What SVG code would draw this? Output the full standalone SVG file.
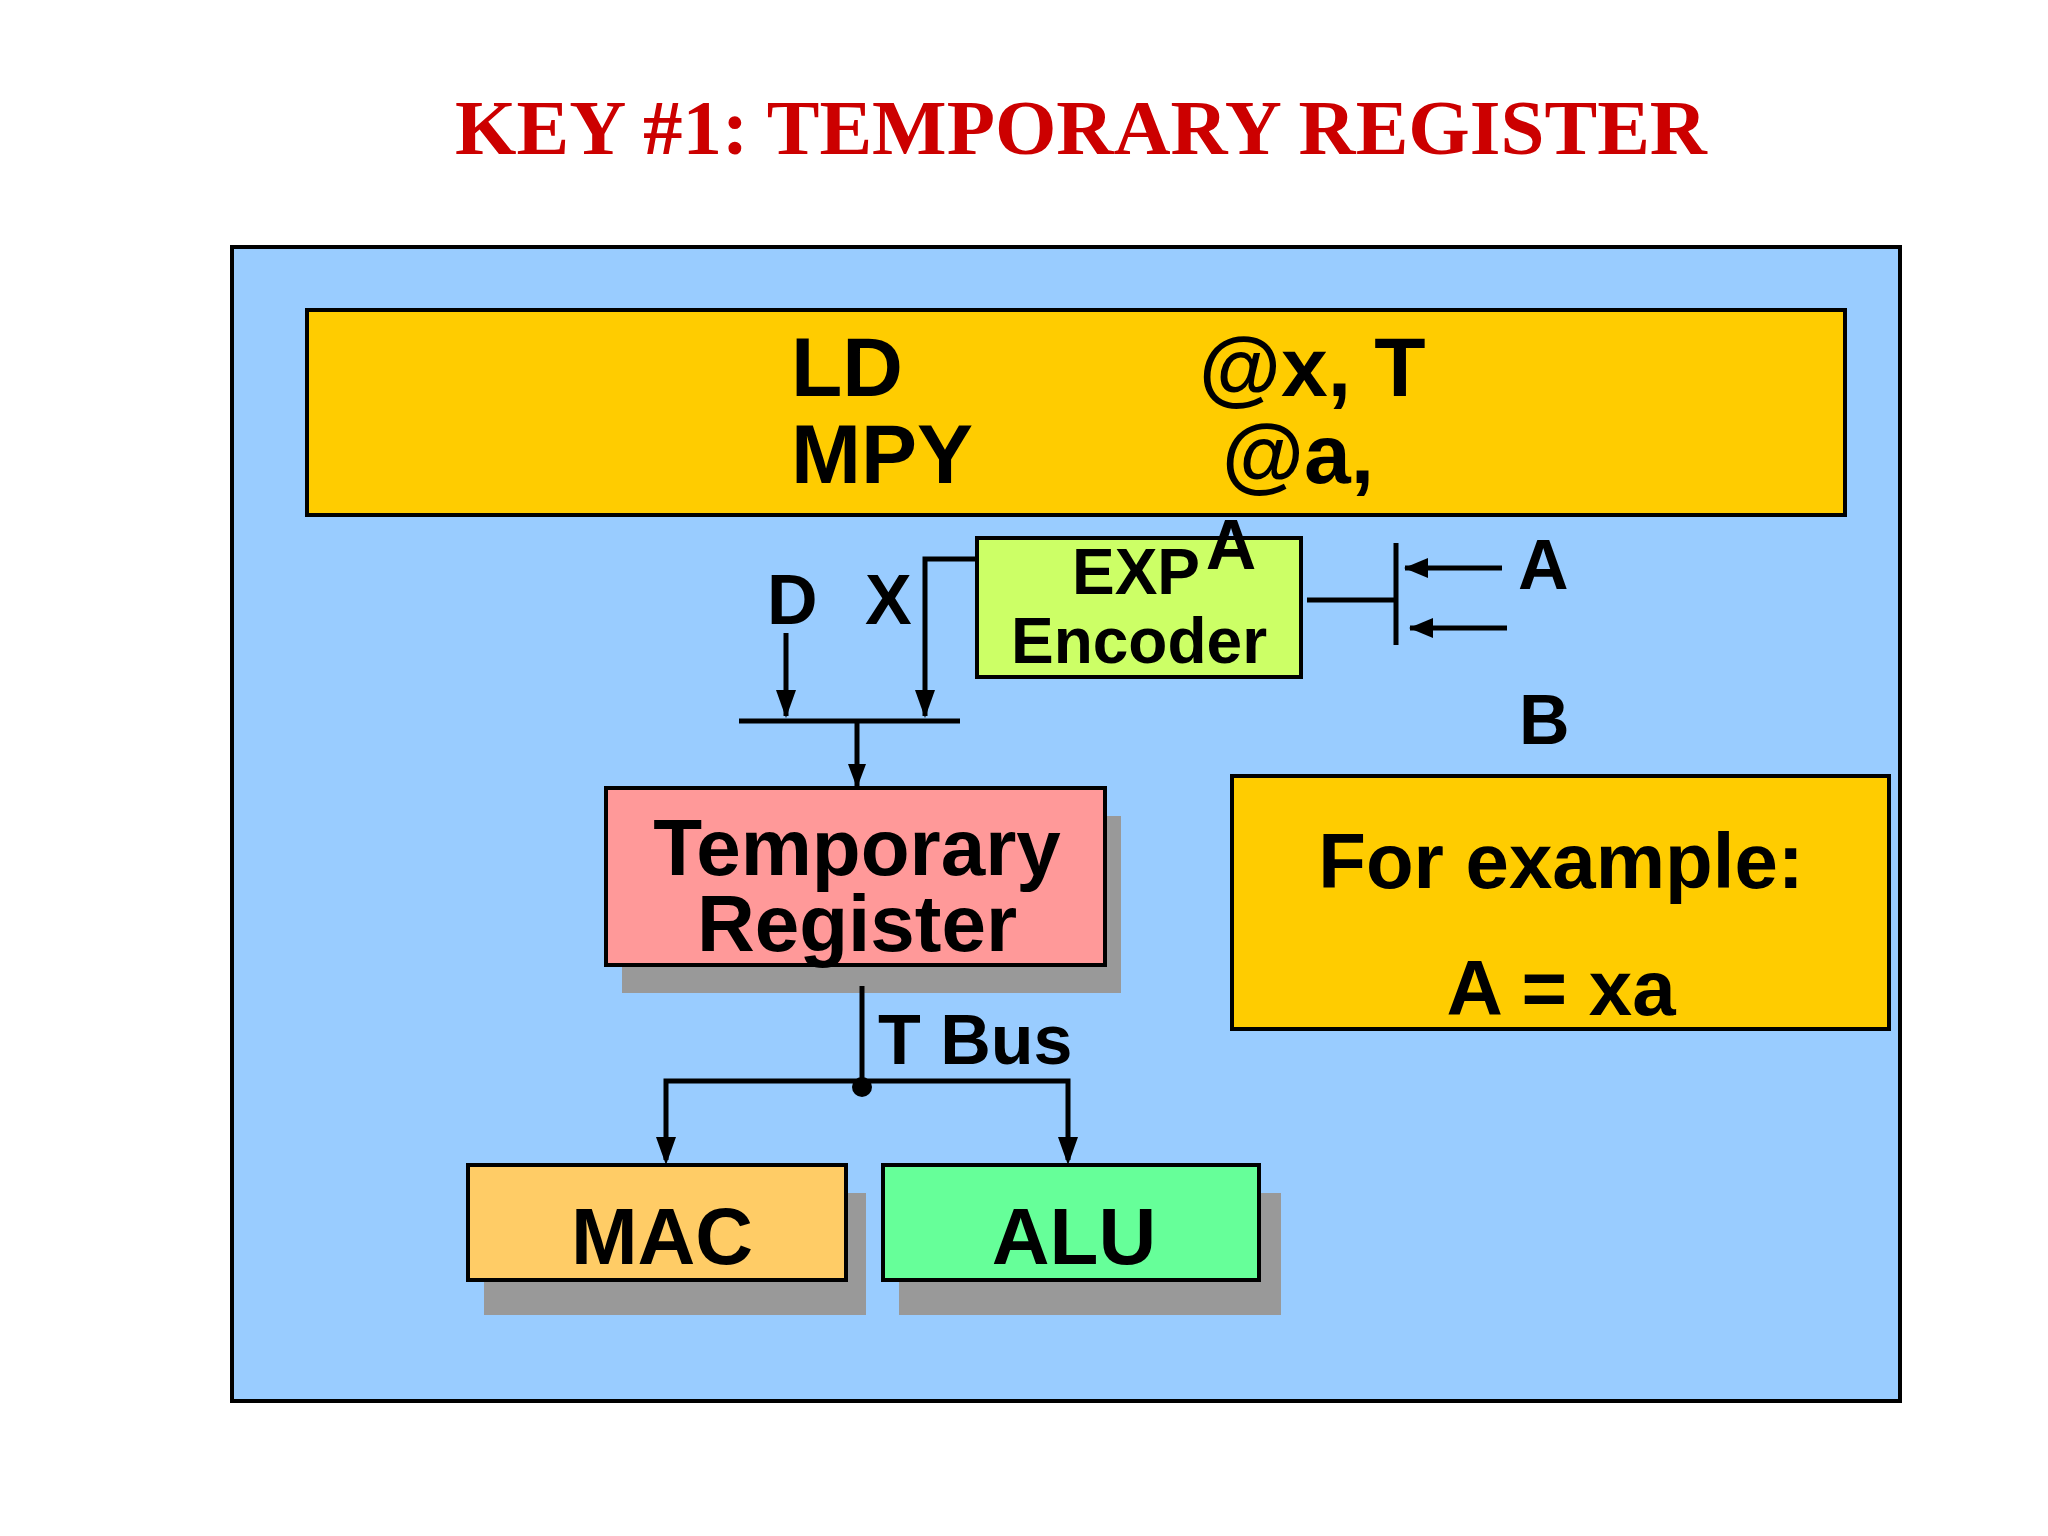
<svg xmlns="http://www.w3.org/2000/svg" width="2048" height="1536" viewBox="0 0 2048 1536">
<style>
.t{font-family:"Liberation Sans",Arial,sans-serif;font-weight:bold;fill:#000}
.b{stroke:#000;stroke-width:4}
.l{stroke:#000;stroke-width:5;fill:none}
.s{fill:#999}
</style>
<defs><marker id="ar" viewBox="0 0 16 24" refX="8" refY="23" markerWidth="16" markerHeight="24" orient="auto-start-reverse" markerUnits="userSpaceOnUse"><path d="M0,0L8,24L16,0z" transform="rotate(-90 8 12) translate(-4 4)"/></marker>
<marker id="ah" viewBox="0 0 24 20" refX="23" refY="10" markerWidth="24" markerHeight="20" orient="auto" markerUnits="userSpaceOnUse"><path d="M0,0L24,10L0,20z"/></marker></defs>
<rect width="2048" height="1536" fill="#fff"/>
<text x="1081" y="154" text-anchor="middle" font-family="Liberation Serif,serif" font-weight="bold" font-size="79" fill="#cc0000">KEY #1: TEMPORARY REGISTER</text>
<rect x="232" y="247" width="1668" height="1154" fill="#99ccff" class="b"/>
<g id="instr"><rect x="307" y="310" width="1538" height="205" fill="#ffcc00" class="b"/>
<text class="t" font-size="84" x="791" y="396">LD</text><text class="t" font-size="84" x="791" y="483">MPY</text>
<text class="t" font-size="84" x="1199" y="396">@x, T</text><text class="t" font-size="84" x="1222" y="483">@a,</text></g>
<g id="enc"><rect x="977" y="538" width="324" height="139" fill="#ccff66" class="b"/>
<text class="t" font-size="64" x="1136" y="594" text-anchor="middle">EXP</text>
<text class="t" font-size="64" x="1139" y="663" text-anchor="middle">Encoder</text>
<text class="t" font-size="70" x="1231" y="569" text-anchor="middle">A</text></g>
<g id="temp"><rect x="622" y="816" width="499" height="177" class="s"/><rect x="606" y="788" width="499" height="177" fill="#ff9999" class="b"/>
<text class="t" font-size="80" x="857" y="875" text-anchor="middle">Temporary</text>
<text class="t" font-size="80" x="857" y="951" text-anchor="middle">Register</text></g>
<g id="mac"><rect x="484" y="1193" width="382" height="122" class="s"/><rect x="468" y="1165" width="378" height="115" fill="#ffcc66" class="b"/>
<text class="t" font-size="80" x="662" y="1264" text-anchor="middle">MAC</text></g>
<g id="alu"><rect x="899" y="1193" width="382" height="122" class="s"/><rect x="883" y="1165" width="376" height="115" fill="#66ff99" class="b"/>
<text class="t" font-size="80" x="1074" y="1264" text-anchor="middle">ALU</text></g>
<g id="ex"><rect x="1232" y="776" width="657" height="253" fill="#ffcc00" class="b"/>
<text class="t" font-size="78" x="1561" y="888" text-anchor="middle">For example:</text>
<text class="t" font-size="78" x="1561" y="1015" text-anchor="middle">A = xa</text></g>
<g id="labels" class="t" font-size="70">
<text x="767" y="624">D</text><text x="865" y="624">X</text>
<text x="1518" y="589">A</text><text x="1519" y="744">B</text>
<text x="878" y="1064">T Bus</text></g>
<g id="connectors">
<path class="l" d="M977,559H925V716"/><path d="M915,690L925,718L935,690z"/>
<path class="l" d="M786,633V716"/><path d="M776,690L786,718L796,690z"/>
<path class="l" d="M739,721H960"/>
<path class="l" d="M857,721V786"/><path d="M848,764L857,788L866,764z"/>
<path class="l" d="M862,986V1087"/>
<path class="l" d="M666,1160V1081H1068V1160"/>
<path d="M656,1137L666,1165L676,1137zM1058,1137L1068,1165L1078,1137z"/>
<circle cx="862" cy="1087" r="10"/>
<path class="l" d="M1307,600H1396M1396,543V645"/>
<path class="l" d="M1502,568H1405" marker-end="url(#ah)"/>
<path class="l" d="M1507,628H1410" marker-end="url(#ah)"/>
</g>
</svg>
